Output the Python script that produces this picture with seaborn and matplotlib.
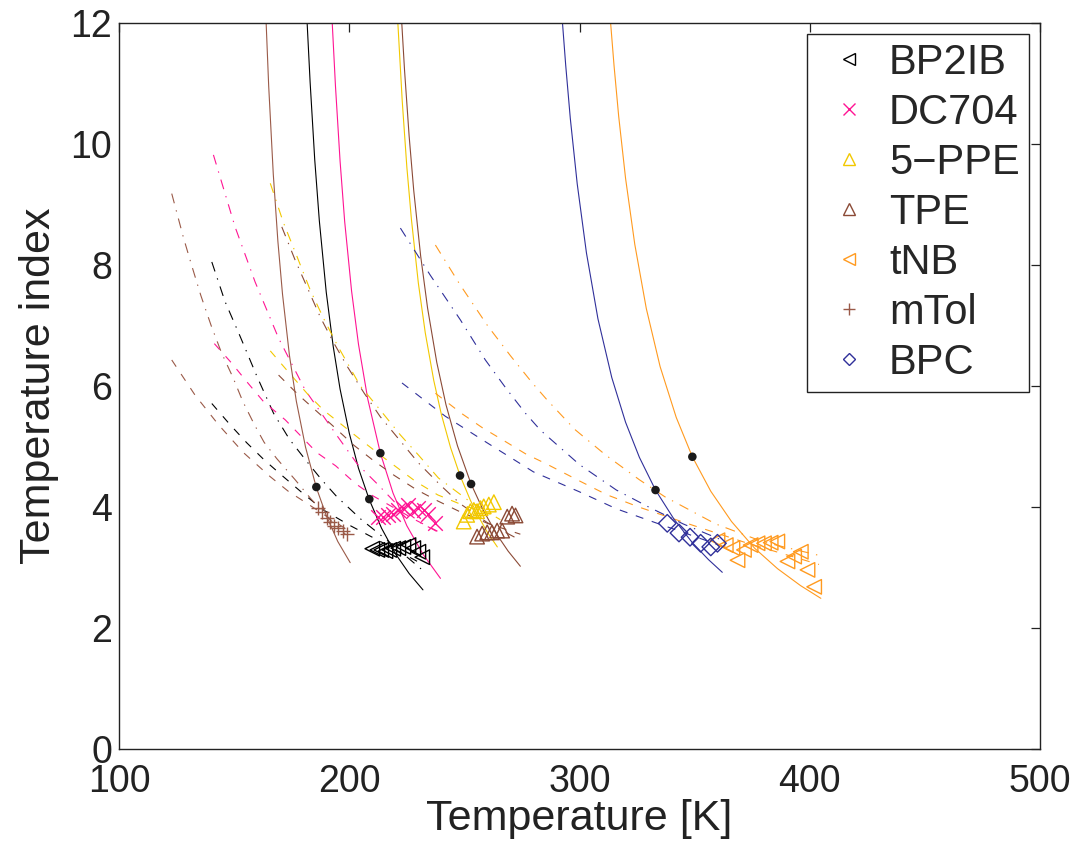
import matplotlib
matplotlib.use("Agg")
import matplotlib.pyplot as plt
import seaborn as sns
from matplotlib.lines import Line2D

sns.set_style("white")
plt.rcParams["font.family"] = ["Liberation Sans", "DejaVu Sans"]

names = ["BP2IB", "DC704", "5\u2212PPE", "TPE", "tNB", "mTol", "BPC"]
colors = ["#000000", "#FF1493", "#F2C800", "#8B4A36", "#FF9A1F", "#9A5A48", "#30309A"]
markers = ["<", "x", "^", "^", "<", "+", "D"]

# ---- measured points ----
bp2ib_T = [210.0, 212.2, 213.9, 215.7, 217.4, 219.1, 221.3, 223.5, 225.7, 227.8, 230.0, 231.7]
bp2ib_y = [3.31, 3.29, 3.29, 3.27, 3.29, 3.31, 3.32, 3.34, 3.37, 3.32, 3.26, 3.17]
dc704_T = [212.6, 214.8, 217.0, 219.1, 221.3, 223.5, 225.7, 227.8, 230.0, 232.3, 234.4, 237.4]
dc704_y = [3.84, 3.84, 3.87, 3.89, 3.95, 3.98, 4.04, 3.93, 3.98, 3.95, 3.89, 3.73]
ppe_T = [249.7, 251.2, 252.6, 254.1, 255.5, 257.0, 258.4, 260.6, 262.8]
ppe_y = [3.76, 3.87, 3.93, 3.95, 3.93, 3.98, 4.01, 4.04, 4.08]
tpe_T = [255.5, 257.7, 259.9, 262.0, 264.2, 266.4, 268.6, 270.7, 272.2]
tpe_y = [3.51, 3.56, 3.58, 3.58, 3.61, 3.61, 3.84, 3.89, 3.86]
tnb_T = [359.9, 363.5, 366.4, 368.6, 371.4, 374.3, 377.3, 380.1, 383.0, 385.9, 390.3, 393.2, 396.1, 399.0, 401.9]
tnb_y = [3.45, 3.37, 3.32, 3.12, 3.29, 3.37, 3.40, 3.40, 3.41, 3.43, 3.10, 3.18, 3.26, 2.96, 2.68]
mtol_T = [186.5, 188.3, 190.4, 191.7, 193.5, 195.2, 197.4, 199.1]
mtol_y = [3.98, 3.92, 3.82, 3.75, 3.69, 3.65, 3.60, 3.55]
bpc_T = [338.1, 343.2, 348.0, 352.6, 357.0, 359.9]
bpc_y = [3.73, 3.57, 3.50, 3.40, 3.34, 3.40]

# ---- solid fit curves ----
bp2ib_fit_T = [181.7, 183.0, 185.0, 187.0, 190.0, 193.0, 196.0, 200.0, 204.0, 208.7, 214.0, 220.0, 226.0, 232.0]
bp2ib_fit_y = [12.0, 11.02, 9.74, 8.73, 7.55, 6.66, 5.95, 5.22, 4.64, 4.12, 3.65, 3.23, 2.90, 2.63]
dc704_fit_T = [192.6, 194.0, 196.0, 198.0, 201.0, 204.0, 208.0, 213.5, 219.0, 225.0, 232.0, 239.6]
dc704_fit_y = [12.0, 10.96, 9.72, 8.72, 7.57, 6.69, 5.79, 4.89, 4.23, 3.69, 3.22, 2.82]
ppe_fit_T = [221.1, 223.0, 225.0, 227.0, 230.0, 233.0, 236.7, 240.0, 244.0, 248.1, 252.6, 256.0, 260.0, 264.3]
ppe_fit_y = [12.0, 10.71, 9.62, 8.75, 7.70, 6.88, 6.09, 5.53, 4.98, 4.52, 4.11, 3.85, 3.58, 3.34]
tpe_fit_T = [222.8, 224.0, 226.0, 228.0, 231.0, 234.0, 238.0, 242.0, 247.0, 252.9, 258.0, 264.0, 269.0, 274.3]
tpe_fit_y = [12.0, 11.22, 10.13, 9.23, 8.15, 7.29, 6.39, 5.69, 5.01, 4.38, 3.96, 3.55, 3.27, 3.02]
tnb_fit_T = [313.5, 315.0, 317.0, 320.0, 324.0, 329.0, 335.0, 342.0, 349.0, 357.0, 366.0, 376.0, 386.0, 396.0, 404.8]
tnb_fit_y = [12.0, 11.29, 10.46, 9.43, 8.34, 7.28, 6.32, 5.48, 4.83, 4.26, 3.76, 3.32, 2.98, 2.70, 2.49]
mtol_fit_T = [163.9, 165.0, 167.0, 169.0, 171.0, 174.0, 177.0, 181.0, 185.7, 190.0, 195.0, 200.4]
mtol_fit_y = [12.0, 10.96, 9.50, 8.39, 7.52, 6.51, 5.75, 4.99, 4.32, 3.86, 3.43, 3.08]
bpc_fit_T = [292.6, 294.0, 296.0, 299.0, 303.0, 308.0, 314.0, 320.0, 326.0, 333.0, 341.0, 349.0, 356.0, 362.0]
bpc_fit_y = [12.0, 11.30, 10.42, 9.34, 8.20, 7.11, 6.14, 5.40, 4.82, 4.28, 3.80, 3.41, 3.13, 2.92]

# ---- dashed model curves ----
bp2ib_da_T = [140.3, 148.0, 155.5, 163.0, 171.4, 180.0, 188.8, 200.0, 215.0, 232.0]
bp2ib_da_y = [5.71, 5.37, 5.06, 4.78, 4.50, 4.22, 3.95, 3.70, 3.40, 3.05]
dc704_da_T = [141.4, 149.1, 155.5, 162.8, 172.2, 185.9, 194.1, 202.6, 210.0, 229.0, 238.3]
dc704_da_y = [6.70, 6.37, 6.07, 5.74, 5.44, 4.90, 4.68, 4.39, 4.19, 3.78, 3.60]
ppe_da_T = [165.7, 172.9, 181.6, 188.8, 196.1, 205.0, 214.8, 228.9, 238.4, 250.0, 264.0]
ppe_da_y = [6.58, 6.26, 5.88, 5.60, 5.38, 5.11, 4.82, 4.42, 4.20, 4.02, 3.85]
tpe_da_T = [169.3, 178.0, 185.9, 193.2, 202.0, 210.4, 219.6, 229.0, 238.4, 247.6, 260.0, 274.3]
tpe_da_y = [6.18, 5.85, 5.58, 5.33, 5.02, 4.77, 4.52, 4.29, 4.10, 3.93, 3.73, 3.55]
tnb_da_T = [237.4, 249.0, 257.8, 267.0, 276.5, 285.7, 300.0, 312.0, 325.7, 345.0, 373.0, 404.0]
tnb_da_y = [5.88, 5.54, 5.31, 5.10, 4.88, 4.71, 4.43, 4.20, 4.00, 3.75, 3.40, 3.05]
mtol_da_T = [122.9, 133.0, 143.2, 154.0, 165.7, 173.5, 181.6, 190.0, 198.0]
mtol_da_y = [6.43, 5.85, 5.36, 4.90, 4.50, 4.26, 4.06, 3.85, 3.65]
bpc_da_T = [222.9, 241.7, 259.9, 280.0, 300.0, 316.0, 330.0, 345.0, 362.0]
bpc_da_y = [6.05, 5.50, 5.06, 4.58, 4.25, 3.97, 3.78, 3.58, 3.35]

# ---- dash-dot model curves ----
bp2ib_dd_T = [140.3, 146.0, 152.6, 160.0, 167.1, 174.0, 181.6, 188.0, 194.6, 205.0, 218.0, 232.0]
bp2ib_dd_y = [8.05, 7.40, 6.82, 6.15, 5.55, 5.12, 4.75, 4.45, 4.17, 3.80, 3.40, 2.95]
dc704_dd_T = [141.0, 150.4, 159.1, 169.3, 180.9, 193.9, 203.5, 212.2, 221.0, 230.9, 238.3]
dc704_dd_y = [9.82, 8.63, 7.72, 6.79, 5.93, 5.22, 4.71, 4.38, 4.03, 3.74, 3.59]
ppe_dd_T = [165.7, 171.4, 177.3, 183.0, 188.8, 195.0, 204.8, 213.5, 222.2, 230.0, 238.7, 252.0, 265.6]
ppe_dd_y = [9.35, 8.70, 8.14, 7.59, 7.12, 6.66, 6.00, 5.60, 5.19, 4.86, 4.48, 4.10, 3.79]
tpe_dd_T = [170.7, 176.5, 182.2, 187.4, 193.0, 199.0, 206.5, 213.5, 222.2, 230.0, 239.6, 248.3, 260.0, 274.3]
tpe_dd_y = [8.63, 8.08, 7.59, 7.14, 6.73, 6.33, 5.88, 5.49, 5.09, 4.73, 4.36, 4.05, 3.74, 3.45]
tnb_dd_T = [237.4, 248.0, 260.0, 270.0, 279.5, 285.9, 298.0, 311.3, 326.0, 337.0, 347.8, 359.1, 380.0, 404.0]
tnb_dd_y = [8.33, 7.68, 7.00, 6.50, 6.05, 5.77, 5.28, 4.86, 4.45, 4.17, 3.95, 3.72, 3.42, 3.20]
mtol_dd_T = [122.9, 128.0, 131.5, 135.5, 140.0, 144.5, 149.5, 153.7, 158.8, 163.0, 168.5, 176.5, 183.0, 190.0, 198.3]
mtol_dd_y = [9.18, 8.45, 8.00, 7.50, 7.00, 6.55, 6.14, 5.75, 5.36, 5.07, 4.80, 4.45, 4.15, 3.85, 3.55]
bpc_dd_T = [222.2, 235.2, 248.3, 259.1, 268.3, 276.5, 283.0, 300.0, 316.0, 330.0, 345.0, 362.0]
bpc_dd_y = [8.61, 7.83, 7.09, 6.43, 5.95, 5.55, 5.27, 4.70, 4.28, 4.00, 3.72, 3.45]

# ---- black dots on the fit curves ----
dot_T = [185.7, 208.7, 213.5, 248.1, 252.9, 333.0, 349.0]
dot_y = [4.33, 4.13, 4.89, 4.52, 4.38, 4.28, 4.83]

meas = [(bp2ib_T, bp2ib_y), (dc704_T, dc704_y), (ppe_T, ppe_y), (tpe_T, tpe_y),
        (tnb_T, tnb_y), (mtol_T, mtol_y), (bpc_T, bpc_y)]
fits = [(bp2ib_fit_T, bp2ib_fit_y), (dc704_fit_T, dc704_fit_y), (ppe_fit_T, ppe_fit_y),
        (tpe_fit_T, tpe_fit_y), (tnb_fit_T, tnb_fit_y), (mtol_fit_T, mtol_fit_y),
        (bpc_fit_T, bpc_fit_y)]
dashes = [(bp2ib_da_T, bp2ib_da_y), (dc704_da_T, dc704_da_y), (ppe_da_T, ppe_da_y),
          (tpe_da_T, tpe_da_y), (tnb_da_T, tnb_da_y), (mtol_da_T, mtol_da_y),
          (bpc_da_T, bpc_da_y)]
dashdots = [(bp2ib_dd_T, bp2ib_dd_y), (dc704_dd_T, dc704_dd_y), (ppe_dd_T, ppe_dd_y),
            (tpe_dd_T, tpe_dd_y), (tnb_dd_T, tnb_dd_y), (mtol_dd_T, mtol_dd_y),
            (bpc_dd_T, bpc_dd_y)]

fig = plt.figure(figsize=(10.79, 8.46), dpi=100)
ax = fig.add_axes([0.1103, 0.1147, 0.8536, 0.8581])

LW = 0.8
for i in range(len(names)):
    c = colors[i]
    sns.lineplot(x=dashes[i][0], y=dashes[i][1], sort=False, estimator=None,
                 color=c, lw=LW, ax=ax)
    ax.lines[-1].set_dashes([7.2, 8])
    sns.lineplot(x=dashdots[i][0], y=dashdots[i][1], sort=False, estimator=None,
                 color=c, lw=LW, ax=ax)
    ax.lines[-1].set_dashes([9, 6.5, 1.2, 6.5])
    sns.lineplot(x=fits[i][0], y=fits[i][1], sort=False, estimator=None,
                 color=c, lw=LW, ax=ax)

for i in range(len(names)):
    c = colors[i]
    m = markers[i]
    if m in ("x", "+"):
        sns.scatterplot(x=meas[i][0], y=meas[i][1], marker=m, color=c, s=110,
                        linewidth=1.0, ax=ax, zorder=4)
    else:
        sz = 80 if m == "D" else 110
        sns.scatterplot(x=meas[i][0], y=meas[i][1], marker=m, s=sz, facecolors="none",
                        edgecolor=c, linewidth=1.0, ax=ax, zorder=4)

sns.scatterplot(x=dot_T, y=dot_y, color="#1a1a1a", s=38, edgecolor="none", ax=ax, zorder=5)

ax.set_xlim(100, 500)
ax.set_ylim(0, 12)
ax.set_xticks([100, 200, 300, 400, 500])
ax.set_yticks([0, 2, 4, 6, 8, 10, 12])
ax.tick_params(direction="in", length=6.5, width=0.9, top=True, right=True,
               labelsize=27, colors="#222222")
ax.tick_params(axis="x", pad=11)
ax.tick_params(axis="y", pad=5)
for sp in ax.spines.values():
    sp.set_color("#222222")
    sp.set_linewidth(1.0)
ax.set_xlabel("Temperature [K]", fontsize=31, color="#222222", labelpad=-1)
ax.set_ylabel("Temperature index", fontsize=31, color="#222222", labelpad=8)

handles = []
for i in range(len(names)):
    ms = 6.5 if markers[i] == "D" else 8
    handles.append(Line2D([], [], linestyle="none", marker=markers[i], color=colors[i],
                          markerfacecolor="none", markersize=ms, markeredgewidth=1.0))
leg = ax.legend(handles, names, loc="upper right", bbox_to_anchor=(0.988, 0.985),
                borderaxespad=0, fontsize=30, frameon=True, fancybox=False,
                edgecolor="#222222", framealpha=1, borderpad=0.22, labelspacing=0.24,
                handlelength=1.58, handletextpad=0.18)
leg.get_frame().set_linewidth(1.0)

fig.savefig("out.png", dpi=100)
